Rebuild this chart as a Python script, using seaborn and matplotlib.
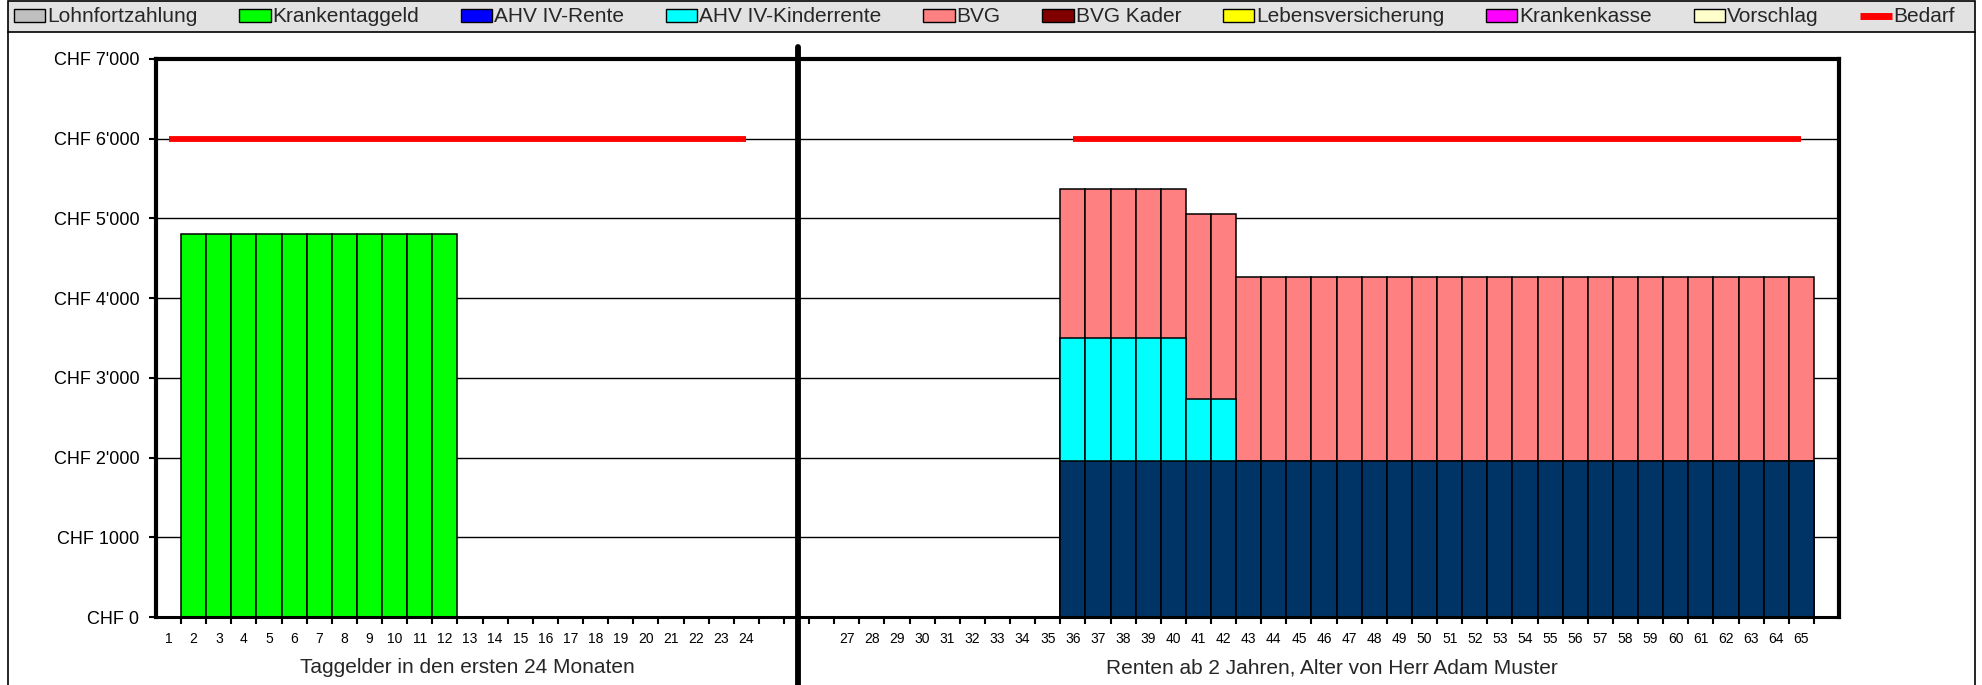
import numpy as np
import pandas as pd
import matplotlib
matplotlib.use("Agg")
import matplotlib.pyplot as plt
import matplotlib.transforms as mtransforms
from matplotlib.patches import Patch, Rectangle
from matplotlib.lines import Line2D
import seaborn as sns

# Taggelder in den ersten 24 Monaten
months = list(range(1, 25))
krankentaggeld = [0, 4810, 4810, 4810, 4810, 4810, 4810, 4810, 4810, 4810, 4810, 4810,
                  0, 0, 0, 0, 0, 0, 0, 0, 0, 0, 0, 0]
bedarf_months = [6000] * 24

# Renten ab 2 Jahren (Alter 27..65)
ages = list(range(27, 66))
ahv_rente = [0, 0, 0, 0, 0, 0, 0, 0, 0,
             1954, 1954, 1954, 1954, 1954, 1954, 1954, 1954, 1954, 1954,
             1954, 1954, 1954, 1954, 1954, 1954, 1954, 1954, 1954, 1954,
             1954, 1954, 1954, 1954, 1954, 1954, 1954, 1954, 1954, 1954]
ahv_kinderrente = [0, 0, 0, 0, 0, 0, 0, 0, 0,
                   1542, 1542, 1542, 1542, 1542, 777, 777, 0, 0, 0,
                   0, 0, 0, 0, 0, 0, 0, 0, 0, 0,
                   0, 0, 0, 0, 0, 0, 0, 0, 0, 0]
bvg = [0, 0, 0, 0, 0, 0, 0, 0, 0,
       1876, 1876, 1876, 1876, 1876, 2319, 2319, 2315, 2315, 2315,
       2315, 2315, 2315, 2315, 2315, 2315, 2315, 2315, 2315, 2315,
       2315, 2315, 2315, 2315, 2315, 2315, 2315, 2315, 2315, 2315]
bedarf_ages = [np.nan] * 9 + [6000] * 30

ytick_labels = ["CHF 0", "CHF 1000", "CHF 2'000", "CHF 3'000", "CHF 4'000",
                "CHF 5'000", "CHF 6'000", "CHF 7'000"]

legend_labels = ["Lohnfortzahlung", "Krankentaggeld", "AHV IV-Rente", "AHV IV-Kinderrente",
                 "BVG", "BVG Kader", "Lebensversicherung", "Krankenkasse", "Vorschlag"]
legend_colors = ["#C0C0C0", "#00FF00", "#0000FF", "#00FFFF", "#FF8080",
                 "#800000", "#FFFF00", "#FF00FF", "#FFFFCC"]

# build one table of category slots: months, 3 empty slots, ages, 1 empty slot
n_gap = 3
left = pd.DataFrame({"label": [str(m) for m in months],
                     "taggeld": krankentaggeld, "bedarf": bedarf_months,
                     "part": "left"})
right = pd.DataFrame({"label": [str(a) for a in ages],
                      "ahv": ahv_rente, "kinder": ahv_kinderrente, "bvg": bvg,
                      "bedarf": bedarf_ages, "part": "right"})
gap = pd.DataFrame({"label": [""] * n_gap, "part": "gap"})
end = pd.DataFrame({"label": [""], "part": "gap"})
df = pd.concat([left, gap, right, end], ignore_index=True)
df["slot"] = np.arange(len(df))
df = df.fillna({"taggeld": 0, "ahv": 0, "kinder": 0, "bvg": 0})
df["top_ahv"] = df["ahv"]
df["top_kinder"] = df["ahv"] + df["kinder"]
df["top_bvg"] = df["ahv"] + df["kinder"] + df["bvg"]
for c in ["taggeld", "top_ahv", "top_kinder", "top_bvg"]:
    df[c] = df[c].replace(0, np.nan)
slots = list(df["slot"])
n_slots = len(slots)

sns.set_style("white")
plt.rcParams["font.family"] = ["Liberation Sans", "DejaVu Sans"]

W, H = 1983, 685
fig = plt.figure(figsize=(W / 100, H / 100), dpi=100)
ax = fig.add_axes([156 / W, 1 - 617 / H, (1839 - 156) / W, (617 - 59) / H])

bar_kw = dict(order=slots, width=1, saturation=1, edgecolor="black",
              linewidth=1.1, errorbar=None, ax=ax)
sns.barplot(data=df, x="slot", y="top_bvg", color="#FF8080", **bar_kw)
sns.barplot(data=df, x="slot", y="top_kinder", color="#00FFFF", **bar_kw)
sns.barplot(data=df, x="slot", y="top_ahv", color="#003366", **bar_kw)
sns.barplot(data=df, x="slot", y="taggeld", color="#00FF00", **bar_kw)

for part in ["left", "right"]:
    sub = df[(df["part"] == part)].dropna(subset=["bedarf"])
    sns.lineplot(data=sub, x="slot", y="bedarf", color="#FF0000", linewidth=4.2,
                 solid_capstyle="butt", legend=False, ax=ax, zorder=3)

ax.set_xlim(-0.5, n_slots - 0.5)
ax.set_ylim(0, 7000)
ax.set_xlabel("")
ax.set_ylabel("")
ax.set_yticks(range(0, 7001, 1000))
ax.set_yticklabels(ytick_labels, fontsize=13)
ax.set_xticks(slots)
ax.set_xticklabels(df["label"], fontsize=10)
ax.set_xticks(np.arange(0.5, n_slots - 1, 1), minor=True)
ax.tick_params(axis="x", which="major", length=0, pad=11, colors="black")
ax.tick_params(axis="x", which="minor", length=5, width=1.5, color="black",
               direction="out", bottom=True)
ax.tick_params(axis="y", which="major", length=5, width=1.5, color="black",
               direction="out", pad=7, left=True, labelcolor="black")
ax.grid(axis="y", color="black", linewidth=1)
ax.grid(axis="x", visible=False)
ax.set_axisbelow(True)
for s in ["left", "top", "right"]:
    ax.spines[s].set_linewidth(3)
    ax.spines[s].set_color("black")
ax.spines["bottom"].set_linewidth(2.2)
ax.spines["bottom"].set_color("black")

# divider between Taggelder and Renten
ax.axvline(x=25.05, ymin=-0.125, ymax=1.0215, color="black", linewidth=4.2,
           clip_on=False, zorder=5)

trans = mtransforms.blended_transform_factory(ax.transData, fig.transFigure)
ax.text(11.9, 1 - 673 / H, "Taggelder in den ersten 24 Monaten", transform=trans,
        ha="center", va="baseline", fontsize=15)
ax.text(46.3, 1 - 673 / H, "Renten ab 2 Jahren, Alter von Herr Adam Muster",
        transform=trans, ha="center", va="baseline", fontsize=15)

# chart frame and legend band
fig.patches.append(Rectangle((8 / W, 1 - 32 / H), (1975 - 8) / W, 31 / H,
                             transform=fig.transFigure, facecolor="#E2E2E2",
                             edgecolor="black", linewidth=1.2, zorder=0))
for xf in [8 / W, 1975 / W]:
    fig.add_artist(Line2D([xf, xf], [0, 1 - 32 / H], transform=fig.transFigure,
                          color="black", linewidth=1.2))

handles = [Patch(facecolor=c, edgecolor="black", linewidth=1, label=l)
           for l, c in zip(legend_labels, legend_colors)]
handles.append(Line2D([], [], color="#FF0000", linewidth=5, solid_capstyle="butt",
                      label="Bedarf"))
fig.legend(handles=handles, loc="center left", bbox_to_anchor=(14 / W, 1 - 17 / H),
           ncol=10, frameon=False, fontsize=15, handlelength=1.5, handleheight=0.6,
           handletextpad=0.1, columnspacing=2.0, borderpad=0, borderaxespad=0)

fig.savefig("out.png", dpi=100)
